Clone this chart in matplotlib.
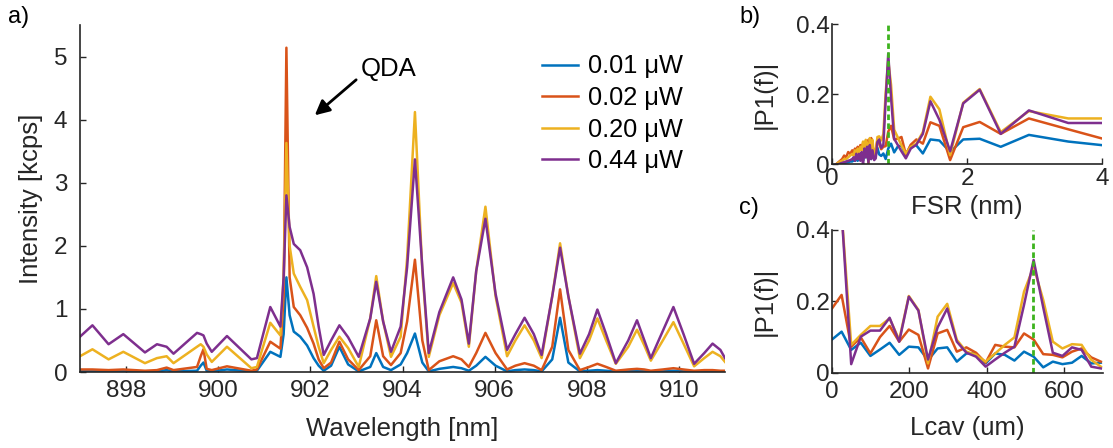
import numpy as np
import matplotlib.pyplot as plt

plt.rcParams['font.family'] = ['Liberation Sans', 'DejaVu Sans']

# ---- panel a: spectra ----
wavelength = [897.00, 897.27, 897.62, 897.94, 898.41, 898.67, 898.88, 899.03, 899.54, 899.62,
              899.68, 899.75, 899.86, 900.19, 900.72, 900.84, 901.13, 901.35, 901.42, 901.48,
              901.55, 901.64, 901.78, 901.93, 902.07, 902.18, 902.29, 902.45, 902.63, 902.82,
              903.05, 903.30, 903.43, 903.58, 903.75, 903.96, 904.10, 904.27, 904.43, 904.57,
              904.80, 905.10, 905.28, 905.44, 905.60, 905.80, 906.02, 906.27, 906.45, 906.65,
              906.85, 907.02, 907.25, 907.42, 907.60, 907.85, 908.05, 908.23, 908.42, 908.63,
              908.90, 909.09, 909.25, 909.39, 909.65, 909.88, 910.10, 910.33, 910.55, 910.73,
              910.90, 911.00]
int_001 = [0.01, 0.01, 0.01, 0.01, 0.00, 0.01, 0.03, 0.01, 0.02, 0.10,
           0.15, 0.02, 0.01, 0.04, 0.01, 0.02, 0.32, 0.24, 0.60, 1.50,
           0.90, 0.64, 0.56, 0.42, 0.22, 0.10, 0.02, 0.10, 0.40, 0.12,
           0.01, 0.08, 0.30, 0.08, 0.03, 0.12, 0.30, 0.61, 0.15, 0.01,
           0.05, 0.08, 0.06, 0.02, 0.10, 0.24, 0.10, 0.01, 0.03, 0.04,
           0.03, 0.01, 0.20, 0.86, 0.15, 0.01, 0.02, 0.03, 0.02, 0.01,
           0.01, 0.02, 0.01, 0.01, 0.01, 0.02, 0.01, 0.01, 0.01, 0.01,
           0.01, 0.01]
int_002 = [0.04, 0.04, 0.03, 0.04, 0.02, 0.03, 0.07, 0.03, 0.08, 0.25,
           0.36, 0.05, 0.03, 0.09, 0.02, 0.04, 0.48, 0.37, 1.20, 5.14,
           1.50, 1.03, 0.90, 0.70, 0.45, 0.20, 0.06, 0.15, 0.48, 0.20,
           0.03, 0.25, 0.82, 0.25, 0.11, 0.30, 0.80, 1.78, 0.50, 0.03,
           0.17, 0.25, 0.20, 0.08, 0.30, 0.62, 0.30, 0.04, 0.10, 0.14,
           0.10, 0.03, 0.40, 1.31, 0.35, 0.03, 0.08, 0.13, 0.08, 0.02,
           0.04, 0.05, 0.04, 0.02, 0.04, 0.06, 0.04, 0.02, 0.03, 0.03,
           0.02, 0.02]
int_020 = [0.25, 0.36, 0.20, 0.32, 0.14, 0.22, 0.25, 0.14, 0.40, 0.44,
           0.40, 0.28, 0.16, 0.40, 0.06, 0.08, 0.78, 0.58, 1.50, 3.63,
           2.00, 1.56, 1.35, 1.14, 0.72, 0.40, 0.14, 0.35, 0.56, 0.38,
           0.08, 0.85, 1.52, 0.80, 0.24, 0.56, 1.80, 4.12, 1.60, 0.24,
           0.90, 1.41, 1.10, 0.40, 1.60, 2.62, 1.20, 0.25, 0.50, 0.74,
           0.50, 0.22, 1.20, 2.04, 1.20, 0.22, 0.50, 0.85, 0.50, 0.13,
           0.40, 0.67, 0.42, 0.18, 0.50, 0.79, 0.45, 0.09, 0.22, 0.32,
           0.25, 0.16]
int_044 = [0.56, 0.74, 0.44, 0.60, 0.31, 0.44, 0.40, 0.29, 0.62, 0.60,
           0.58, 0.45, 0.32, 0.57, 0.20, 0.22, 1.03, 0.72, 1.50, 2.80,
           2.30, 2.03, 1.93, 1.66, 1.24, 0.72, 0.27, 0.50, 0.74, 0.55,
           0.24, 0.85, 1.43, 0.80, 0.32, 0.72, 1.66, 3.37, 1.66, 0.30,
           0.95, 1.50, 1.15, 0.45, 1.60, 2.43, 1.24, 0.35, 0.60, 0.86,
           0.60, 0.27, 1.20, 1.97, 1.20, 0.29, 0.60, 0.99, 0.60, 0.14,
           0.50, 0.82, 0.50, 0.22, 0.65, 1.03, 0.60, 0.13, 0.30, 0.45,
           0.35, 0.22]

powers = ['0.01 μW', '0.02 μW', '0.20 μW', '0.44 μW']
colors = ['#0072BD', '#D95319', '#EDB120', '#7E2F8E']

# ---- panels b/c: FFT amplitude, shared values ----
lcav_um = [0, 24.8, 49.6, 74.4, 99.2, 124.0, 148.8, 173.6, 198.4, 223.2, 248.0, 272.8,
           297.6, 322.4, 347.2, 372.0, 396.8, 421.6, 446.4, 471.2, 496.0, 520.8, 545.6,
           570.4, 595.2, 620.0, 644.8, 669.6, 694.4]
fsr_nm = [np.inf, 17.5, 8.75, 5.833, 4.375, 3.5, 2.917, 2.5, 2.188, 1.944, 1.75, 1.591,
          1.458, 1.346, 1.25, 1.167, 1.094, 1.029, 0.972, 0.921, 0.875, 0.833, 0.795,
          0.761, 0.729, 0.7, 0.673, 0.648, 0.625]
p_001 = [0.093, 0.115, 0.064, 0.084, 0.047, 0.065, 0.084, 0.050, 0.073, 0.071, 0.035, 0.068,
         0.071, 0.031, 0.054, 0.054, 0.026, 0.054, 0.050, 0.034, 0.059, 0.045, 0.015, 0.031,
         0.024, 0.028, 0.047, 0.026, 0.028]
p_002 = [0.180, 0.218, 0.073, 0.099, 0.054, 0.100, 0.131, 0.087, 0.121, 0.106, 0.012, 0.110,
         0.120, 0.059, 0.071, 0.056, 0.028, 0.078, 0.073, 0.071, 0.110, 0.093, 0.052, 0.050,
         0.043, 0.059, 0.068, 0.043, 0.031]
p_020 = [np.nan, 0.45, 0.078, 0.106, 0.131, 0.131, 0.152, 0.092, 0.215, 0.176, 0.026, 0.157,
         0.193, 0.092, 0.059, 0.050, 0.031, 0.054, 0.078, 0.099, 0.227, 0.297, 0.204, 0.087,
         0.068, 0.080, 0.078, 0.036, 0.017]
p_044 = [np.nan, 0.45, 0.024, 0.101, 0.118, 0.118, 0.154, 0.087, 0.213, 0.174, 0.037, 0.127,
         0.180, 0.087, 0.056, 0.045, 0.017, 0.037, 0.056, 0.073, 0.190, 0.316, 0.183, 0.056,
         0.047, 0.071, 0.064, 0.017, 0.012]

# short-FSR tail only shown in panel b
fsr_tail = [0.60, 0.58, 0.56, 0.54, 0.52, 0.50, 0.48, 0.46, 0.44, 0.42, 0.40, 0.38,
            0.36, 0.34, 0.32, 0.30, 0.27, 0.24, 0.21, 0.18, 0.15, 0.12, 0.09, 0.06]
tail_001 = [0.030, 0.015, 0.035, 0.010, 0.030, 0.020, 0.030, 0.010, 0.025, 0.015, 0.020, 0.010,
            0.015, 0.010, 0.012, 0.008, 0.008, 0.006, 0.005, 0.004, 0.003, 0.002, 0.001, 0.0]
tail_002 = [0.050, 0.075, 0.040, 0.070, 0.030, 0.065, 0.035, 0.060, 0.045, 0.055, 0.040, 0.050,
            0.035, 0.045, 0.030, 0.040, 0.030, 0.035, 0.020, 0.025, 0.015, 0.010, 0.005, 0.0]
tail_020 = [0.070, 0.045, 0.075, 0.000, 0.060, 0.070, 0.030, 0.065, 0.040, 0.050, 0.035, 0.045,
            0.030, 0.040, 0.025, 0.030, 0.025, 0.020, 0.015, 0.015, 0.010, 0.008, 0.004, 0.0]
tail_044 = [0.040, 0.015, 0.055, 0.005, 0.050, 0.020, 0.045, 0.000, 0.035, 0.010, 0.030, 0.015,
            0.030, 0.010, 0.020, 0.015, 0.012, 0.010, 0.008, 0.006, 0.004, 0.002, 0.0, 0.0]

fsr_peak = 0.83
lcav_peak = 518

axc = '#262626'
tick_fs = 17.5
lab_fs = 18.5


def style(ax, xpad, ypad):
    ax.spines[['top', 'right']].set_visible(False)
    for s in ['left', 'bottom']:
        ax.spines[s].set_linewidth(1.2)
        ax.spines[s].set_color(axc)
    ax.tick_params(direction='in', length=4, width=1, colors=axc, labelsize=tick_fs)
    ax.tick_params(axis='x', pad=xpad)
    ax.tick_params(axis='y', pad=ypad)


W, H = 1113, 448
fig = plt.figure(figsize=(W / 100, H / 100), dpi=100)

# main spectrum
ax = fig.add_axes([80 / W, 1 - 372 / H, 645 / W, 347 / H])
series = [int_001, int_002, int_020, int_044]
for y, c, lab in zip(series, colors, powers):
    ax.plot(wavelength, y, color=c, lw=1.8, label=lab)
ax.set_xlim(897, 911)
ax.set_ylim(0, 5.5)
ax.set_xticks([898, 900, 902, 904, 906, 908, 910])
ax.set_yticks([0, 1, 2, 3, 4, 5])
style(ax, 6, 9)
ax.set_xlabel('Wavelength [nm]', fontsize=lab_fs, color=axc)
ax.set_ylabel('Intensity [kcps]', fontsize=lab_fs, color=axc)
ax.xaxis.set_label_coords(0.5, -0.13)
ax.yaxis.set_label_coords(-0.057, 0.5)
ax.annotate('', xy=(902.05, 4.04), xytext=(903.04, 4.66),
            arrowprops=dict(arrowstyle='-|>', color='k', lw=2, mutation_scale=22))
ax.text(903.1, 4.8, 'QDA', fontsize=lab_fs, va='center', ha='left', color='k')
ax.legend(loc='upper left', bbox_to_anchor=(0.717, 0.915), frameon=False,
          fontsize=18.3, handlelength=1.38, handletextpad=0.4, labelspacing=0.3,
          borderpad=0, borderaxespad=0)

# panel b
axb = fig.add_axes([832 / W, 1 - 164.3 / H, 270 / W, 140 / H])
pb = [p_001, p_002, p_020, p_044]
tails = [tail_001, tail_002, tail_020, tail_044]
for y, t, c in zip(pb, tails, colors):
    axb.plot(fsr_nm[1:] + fsr_tail, y[1:] + t, color=c, lw=1.8)
axb.axvline(fsr_peak, color='#3DB31E', lw=2, ls=(0, (2, 1.2)))
axb.set_xlim(0, 4)
axb.set_ylim(0, 0.4)
axb.set_xticks([0, 2, 4])
axb.set_yticks([0, 0.2, 0.4])
axb.set_yticklabels(['0', '0.2', '0.4'])
style(axb, 3, 1.5)
axb.set_xlabel('FSR (nm)', fontsize=lab_fs, color=axc)
axb.set_ylabel('|P1(f)|', fontsize=lab_fs, color=axc)
axb.xaxis.set_label_coords(0.5, -0.22)
axb.yaxis.set_label_coords(-0.205, 0.5)

# panel c
axc_ = fig.add_axes([832 / W, 1 - 372.7 / H, 271 / W, 142.7 / H])
for y, c in zip(pb, colors):
    axc_.plot(lcav_um, y, color=c, lw=1.8)
axc_.axvline(lcav_peak, color='#3DB31E', lw=2, ls=(0, (2, 1.2)))
axc_.set_xlim(0, 700)
axc_.set_ylim(0, 0.4)
axc_.set_xticks([0, 200, 400, 600])
axc_.set_yticks([0, 0.2, 0.4])
axc_.set_yticklabels(['0', '0.2', '0.4'])
style(axc_, 6.3, 1.5)
axc_.set_xlabel('Lcav (um)', fontsize=lab_fs, color=axc)
axc_.set_ylabel('|P1(f)|', fontsize=lab_fs, color=axc)
axc_.xaxis.set_label_coords(0.5, -0.3)
axc_.yaxis.set_label_coords(-0.205, 0.5)

fig.text(8 / W, 1 - 17 / H, 'a)', fontsize=17, va='center', ha='left')
fig.text(739 / W, 1 - 17 / H, 'b)', fontsize=17, va='center', ha='left')
fig.text(739 / W, 1 - 208 / H, 'c)', fontsize=17, va='center', ha='left')

fig.savefig('out.png', dpi=100)
